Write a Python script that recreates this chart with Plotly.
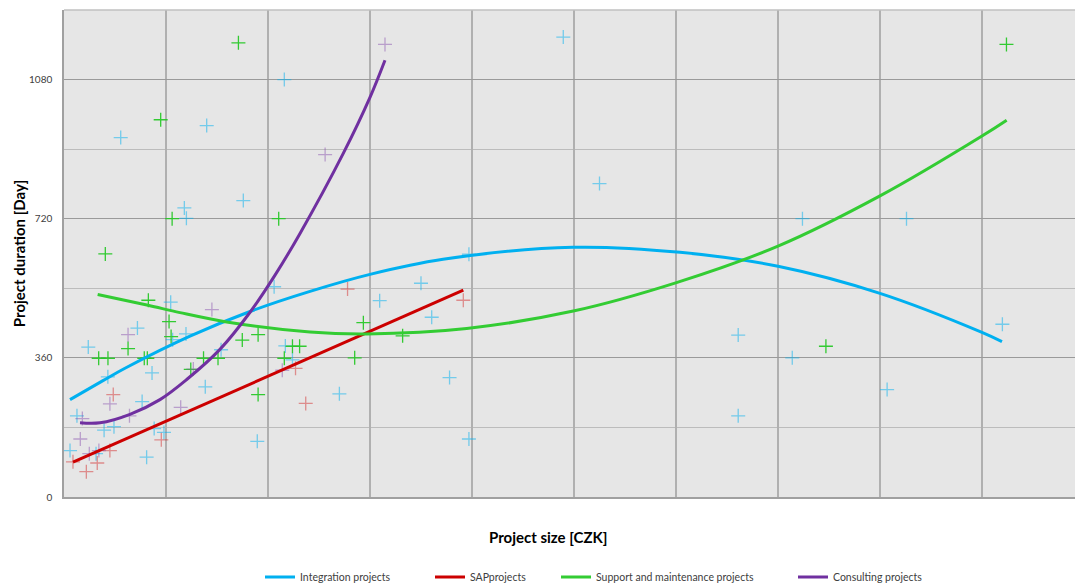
import plotly.graph_objects as go

# Project size (x, CZK scale units) and project duration (y, days) per project
integration_size = [21.6, 48.95, 52.5, 5.56, 13.99, 17.58, 11.8, 12.0, 72.4, 82.6,
                    66.1, 71.4, 80.7, 66.1, 92.0, 39.7, 35.0, 30.95, 36.05, 37.8,
                    27.0, 39.7, 20.6, 10.46, 7.2, 11.96, 2.38, 15.4, 21.7, 22.4,
                    4.3, 8.63, 13.85, 7.66, 1.27, 3.93, 4.9, 8.84, 9.8, 18.95,
                    0.59, 8.1, 3.14, 10.65]
integration_days = [1080, 1190, 811, 930, 961, 767, 748, 721, 720, 720,
                    419, 360, 278, 210, 447, 628, 553, 508, 465, 309,
                    267, 150, 544, 504, 437, 422, 388, 381, 391, 355,
                    311, 321, 285, 247, 210, 173, 182, 177, 167, 144,
                    120, 103, 112, 407]

sap_size = [4.83, 9.54, 4.5, 0.88, 3.26, 2.19, 23.7, 22.7, 27.8, 39.15]
sap_days = [265, 148, 120, 91, 88, 65.5, 242, 333, 538, 509]

support_size = [17.1, 9.48, 10.6, 21.05, 4.05, 8.27, 10.3, 10.5, 6.28, 3.4,
                4.31, 7.87, 8.17, 13.68, 15.1, 17.48, 19.03, 19.03, 12.43, 21.6,
                22.4, 23.1, 28.5, 29.35, 33.2, 74.7, 92.4]
support_days = [1175, 976, 720, 720, 629, 509, 454, 415, 384, 359,
                359, 359, 359, 359, 359, 406, 420, 265, 330, 359,
                390, 390, 360, 451, 417, 390, 1171]

consulting_size = [31.47, 25.6, 14.5, 6.28, 4.5, 11.44, 6.42, 1.8, 1.6, 2.48,
                   3.42, 12.68, 21.4]
consulting_days = [1171, 886, 485, 420, 241, 232, 210, 203, 150, 112,
                   120, 331, 328]

# Trend curves for each project group
integration_trend_x = [0.59, 3.82, 5.98, 12.35, 18.24, 24.12, 30.0, 37.16, 49.9,
                       60.4, 70.0, 80.0, 90.0, 91.96]
integration_trend_y = [252, 301, 333, 416, 480, 532, 576, 615, 646,
                       633, 597, 527, 426, 402]

sap_trend_x = [0.88, 39.15]
sap_trend_y = [90, 535]

support_trend_x = [3.3, 8.24, 11.37, 15.95, 24.12, 29.68, 39.48, 49.93, 59.97,
                   70.0, 80.0, 90.0, 92.42]
support_trend_y = [524, 496, 477, 453, 427, 422, 436, 481, 554,
                   649, 779, 934, 975]

consulting_trend_x = [1.57, 3.53, 6.47, 9.41, 12.03, 15.29, 18.24, 20.69, 23.14,
                      27.38, 30.0, 31.47]
consulting_trend_y = [192, 192, 214, 252, 304, 382, 478, 574, 682,
                      889, 1034, 1130]

series = [
    ("Integration projects", integration_size, integration_days,
     integration_trend_x, integration_trend_y, "rgba(0,176,240,0.5)", "#00b0f0"),
    ("SAPprojects", sap_size, sap_days,
     sap_trend_x, sap_trend_y, "rgba(210,30,30,0.45)", "#cc0000"),
    ("Support and maintenance projects", support_size, support_days,
     support_trend_x, support_trend_y, "rgba(40,200,40,0.95)", "#33cc33"),
    ("Consulting projects", consulting_size, consulting_days,
     consulting_trend_x, consulting_trend_y, "rgba(130,70,170,0.45)", "#7030a0"),
]

# left edge (container px) of each legend entry
legend_left_px = [260, 430, 556, 793]

FONT = "Lato"

fig = go.Figure()
for name, xs, ys, tx, ty, mcol, lcol in series:
    fig.add_trace(go.Scatter(
        x=xs, y=ys, mode="markers", name=name, showlegend=False,
        marker=dict(symbol="cross-thin", size=10, line=dict(color=mcol, width=1.3)),
    ))

legend_layout = {}
for i, (name, xs, ys, tx, ty, mcol, lcol) in enumerate(series):
    key = "legend" if i == 0 else f"legend{i + 1}"
    fig.add_trace(go.Scatter(
        x=tx, y=ty, mode="lines", name=name, legend=key,
        line=dict(color=lcol, width=3, shape="spline", smoothing=1.0),
    ))
    legend_layout[key] = dict(
        orientation="h", xref="container", yref="container",
        x=legend_left_px[i] / 1075, xanchor="left",
        y=6 / 583, yanchor="middle",
        font=dict(family=FONT, size=10.5, color="#404040"),
        bgcolor="rgba(0,0,0,0)", borderwidth=0,
    )

fig.update_layout(
    width=1075, height=583, autosize=False,
    margin=dict(l=64, r=0, t=10, b=86),
    paper_bgcolor="white", plot_bgcolor="#e6e6e6",
    font=dict(family=FONT, color="#404040"),
    showlegend=True,
    xaxis=dict(range=[0, 99.12], tickmode="linear", tick0=0, dtick=10,
               showticklabels=False, ticks="", showgrid=True,
               gridcolor="#b0b0b0", gridwidth=1.6, zeroline=False,
               showline=True, linecolor="#a0a0a0", linewidth=1.5),
    yaxis=dict(range=[0, 1260], tickmode="linear", tick0=0, dtick=360,
               ticks="", showgrid=True, gridcolor="#9a9a9a", gridwidth=1.2,
               minor=dict(tickmode="linear", tick0=0, dtick=180, showgrid=True,
                          gridcolor="#bcbcbc", gridwidth=1.2),
               zeroline=False, showline=True, linecolor="#a0a0a0", linewidth=1.5,
               ticklabelstandoff=8,
               tickfont=dict(family=FONT, size=10, color="#404040"),
               title=dict(text="<b>Project duration [Day]</b>", standoff=0,
                          font=dict(family=FONT, size=15, color="#000000"))),
    annotations=[dict(text="<b>Project size [CZK]</b>", xref="paper", yref="paper",
                      x=0.479, y=-0.083, xanchor="center", yanchor="middle",
                      showarrow=False,
                      font=dict(family=FONT, size=15, color="#000000"))],
    shapes=[dict(type="line", xref="paper", yref="paper", x0=0, x1=1, y0=1, y1=1,
                 line=dict(color="#c0c0c0", width=1.5))],
    **legend_layout,
)

fig.write_html("out.html")
